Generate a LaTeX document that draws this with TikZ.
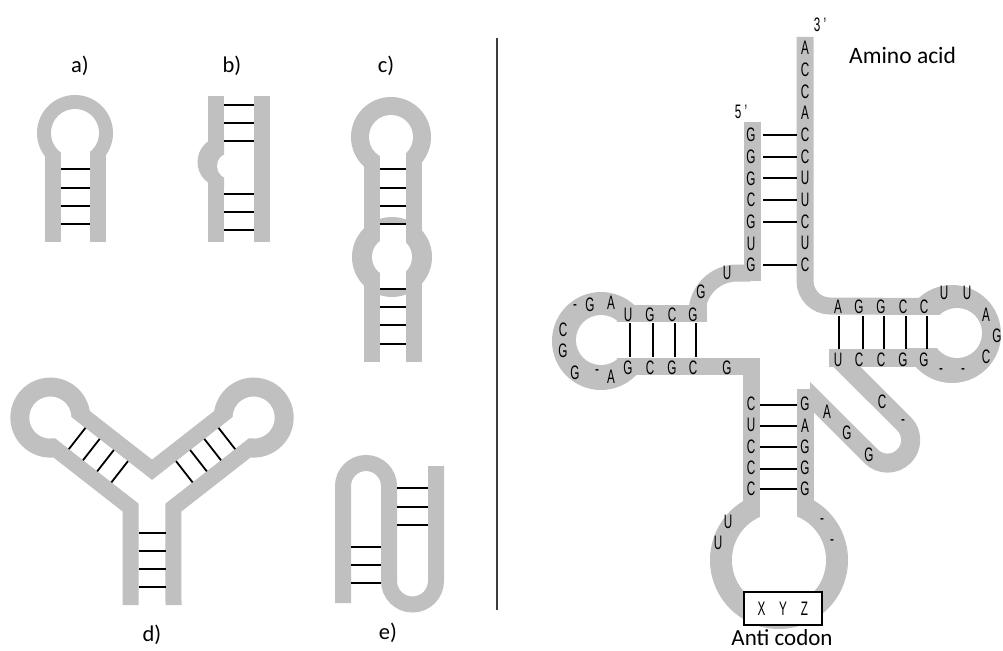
\documentclass[tikz,border=0pt]{standalone}
\usepackage{fontspec}
\setmainfont{Carlito}
\newfontfamily\ntfamily[FakeStretch=0.6]{Liberation Sans}
\usetikzlibrary{calc}
\definecolor{rna}{RGB}{192,192,192}
\definecolor{sepline}{RGB}{60,60,60}
\tikzset{
  strand/.style={draw=rna, line width=16pt, line cap=butt, line join=miter},
  tstrand/.style={strand, line width=17pt},
  rung/.style={draw=black, line width=1.8pt},
  base/.style={font=\fontsize{19.5}{19.5}\ntfamily, inner sep=0pt},
  caption/.style={font=\fontsize{22.5}{26}\selectfont, inner sep=0pt},
}
\begin{document}
\begin{tikzpicture}[x=1pt,y=1pt,yscale=-1]
\useasboundingbox (0,0) rectangle (1003,650);
\fill[white] (0,0) rectangle (1003,650);

% ---------- a) hairpin ----------
\fill[rna] (75,133) circle (38);
\fill[white] (75,133) circle (24);
\fill[white] (61,133) rectangle (90,180);
\draw[strand] (53,152) -- (53,242);
\draw[strand] (98,152) -- (98,242);
\foreach \y in {169,188,206,224} \draw[rung] (61,\y) -- (90,\y);
\node[caption] (la) at (80,66) {a)};

% ---------- b) bulge ----------
\draw[strand] (216,96) -- (216,242);
\draw[strand] (261.5,96) -- (261.5,242);
\begin{scope}
  \clip (180,120) rectangle (224,200);
  \fill[rna] (223,162) circle (25.5);
\end{scope}
\fill[white] (230,166) circle (13);
\foreach \y in {105,123,141,194,212,230} \draw[rung] (224,\y) -- (254,\y);
\node[caption] (lb) at (232,66) {b)};

% ---------- c) internal loop ----------
\fill[rna] (391,137) circle (40);
\fill[rna] (392,257) circle (40);
\draw[strand] (372,137) -- (372,362);
\draw[strand] (414,137) -- (414,362);
\fill[white] (380,137) rectangle (406,182);
\fill[white] (380,225) rectangle (406,288);
\fill[white] (391,137) circle (22);
\fill[white] (392,257) circle (20);
\foreach \y in {169,188,206,224} \draw[rung] (380,\y) -- (406,\y);
\foreach \y in {289,307,325,344} \draw[rung] (380,\y) -- (406,\y);
\node[caption] (lc) at (386,66) {c)};

% ---------- separator ----------
\draw[sepline, line width=2pt] (497,38) -- (497,610);

% ---------- d) three-way junction ----------
\begin{scope}[shift={(152,497)}, rotate=218]
  \fill[rna] (129,0) circle (40);
  \fill[white] (129,0) circle (21);
  \fill[white] (85,-13.5) rectangle (129,13.5);
  \coordinate (dLu) at (112,21.5);
  \coordinate (dLl) at (112,-21.5);
  \coordinate (dTop) at (16.75,21.5);
  \coordinate (dLc) at (10.4,-21.5);
\end{scope}
\begin{scope}[shift={(152,497)}, rotate=322]
  \fill[rna] (129,0) circle (40);
  \fill[white] (129,0) circle (21);
  \fill[white] (85,-13.5) rectangle (129,13.5);
  \coordinate (dRu) at (112,-21.5);
  \coordinate (dRl) at (112,21.5);
  \coordinate (dRc) at (10.4,21.5);
\end{scope}
\draw[strand] (dLu) -- (dTop) -- (dRu);
\draw[strand] (dLl) -- (dLc) -- (130.5,605);
\draw[strand] (dRl) -- (dRc) -- (173.5,605);
\begin{scope}[shift={(152,497)}, rotate=218]
  \foreach \s in {41,59,77,95} \draw[rung] (\s,-13.5) -- (\s,13.5);
\end{scope}
\begin{scope}[shift={(152,497)}, rotate=322]
  \foreach \s in {41,59,77,95} \draw[rung] (\s,-13.5) -- (\s,13.5);
\end{scope}
\foreach \y in {533,551,569,587} \draw[rung] (138.5,\y) -- (165.5,\y);
\node[caption] (ld) at (152,635) {d)};

% ---------- e) pseudoknot ----------
\draw[strand] (343,603) -- (343,486) arc[start angle=180, end angle=360, radius=23]
  -- (389,581) arc[start angle=180, end angle=0, radius=23.5] -- (436,466);
\foreach \y in {488,507,525} \draw[rung] (397,\y) -- (428,\y);
\foreach \y in {547,565,583} \draw[rung] (351,\y) -- (381,\y);
\node[caption] (le) at (388,633) {e)};

% ---------- tRNA cloverleaf ----------
% loops
\fill[rna] (601,341) circle (49);
\fill[white] (601,340) circle (25);
\fill[white] (601,322) rectangle (660,358);
\fill[rna] (952,334) circle (49);
\fill[white] (957,333) circle (25);
\fill[white] (900,315) rectangle (957,348);
\fill[rna] (779,560) circle (69);
\fill[white] (779,560) circle (47);
\fill[white] (760,470) rectangle (797,560);

% strands
\draw[tstrand] (805,37) -- (805,281) arc[start angle=180, end angle=90, radius=25] -- (935,306.5);
\draw[tstrand] (752.5,122) -- (752.5,281);
\draw[tstrand] (617,313.5) -- (707,313.5);
\draw[tstrand] (697,318) -- (697,313) arc[start angle=180, end angle=270, radius=40] -- (750,273);
\draw[tstrand] (617,366.5) -- (751.5,366.5) -- (751.5,506);
\draw[tstrand] (805,389) -- (805,513);
\draw[tstrand, line width=18pt] (829,357.5) -- (935,357.5);
\begin{scope}
  \clip (810,340) rectangle (960,500);
  \draw[tstrand, line width=19pt] (837,357) -- (903.9,423.6)
    arc[start angle=-45, end angle=135, radius=23.15] -- (800,385.3);
\end{scope}

% base pairs
\foreach \y in {135,157,178,200,222,265} \draw[rung] (763,\y) -- (797,\y);
\foreach \y in {405,426,447,469,489} \draw[rung] (760,\y) -- (797,\y);
\foreach \x in {630,653,675,696} \draw[rung] (\x,323) -- (\x,357);
\foreach \x in {839,863,884,906,927} \draw[rung] (\x,316) -- (\x,349);

% acceptor stem
\foreach \b [count=\i from 0] in {A,C,C,A,C,C,U,U,C,U,C}
  \node[base] (ar\i) at (805,{48+21.7*\i}) {\b};
\foreach \b [count=\i from 0] in {G,G,G,C,G,U,G}
  \node[base] (al\i) at (751,{135+21.7*\i}) {\b};
\node[base] (p3) at (820,25) {3\,’};
\node[base] (p5) at (741,112) {5\,’};

% D arm
\foreach \b/\x [count=\i] in {U/628,G/650,C/672,G/693}
  \node[base] (du\i) at (\x,315) {\b};
\foreach \b/\x [count=\i] in {G/628,C/650,G/672,C/693,G/727}
  \node[base] (dl\i) at (\x,368) {\b};
\node[base] (dc1) at (701,292) {G};
\node[base] (dc2) at (727,273) {U};
\foreach \b/\x/\y [count=\i] in {-/575/308,G/590/305,A/611/303,C/563/330,G/563/351,G/575/373,-/597/373,A/611/377}
  \node[base] (dd\i) at (\x,\y) {\b};

% T arm
\foreach \b/\x [count=\i] in {A/838,G/859,G/881,C/903,C/924}
  \node[base] (tu\i) at (\x,307) {\b};
\foreach \b/\x [count=\i] in {U/838,C/859,C/881,G/903,G/924}
  \node[base] (tl\i) at (\x,360) {\b};
\foreach \b/\x/\y [count=\i] in {U/944/293,U/967/293,A/986/315,G/997/336,C/986/357,-/941/372,-/963/372}
  \node[base] (tt\i) at (\x,\y) {\b};

% variable loop
\foreach \b/\x/\y [count=\i] in {C/882/402,-/903/423,A/827/412,G/847/433,G/869/455}
  \node[base] (vl\i) at (\x,\y) {\b};

% anticodon arm
\foreach \b [count=\i from 0] in {C,U,C,C,C}
  \node[base] (cl\i) at (751,{404+21.3*\i}) {\b};
\foreach \b [count=\i from 0] in {G,A,G,G,G}
  \node[base] (cr\i) at (805,{404+21.3*\i}) {\b};
\foreach \b/\x/\y [count=\i] in {U/728/522,U/718/543,-/822/522,-/832/543}
  \node[base] (ca\i) at (\x,\y) {\b};
\node[base, draw=black, fill=white, line width=1.2pt, minimum width=78pt, minimum height=33pt]
  (codon) at (783,608.5) {\makebox[21.5pt]{X}\makebox[21.5pt]{Y}\makebox[21.5pt]{Z}};

% captions
\node[caption, font=\fontsize{23.5}{26}\selectfont, anchor=base west] (amino) at (849,64) {Amino acid};
\node[caption, font=\fontsize{23}{26}\selectfont, anchor=base] (anti) at (782,645) {Anti codon};
\end{tikzpicture}
\end{document}
